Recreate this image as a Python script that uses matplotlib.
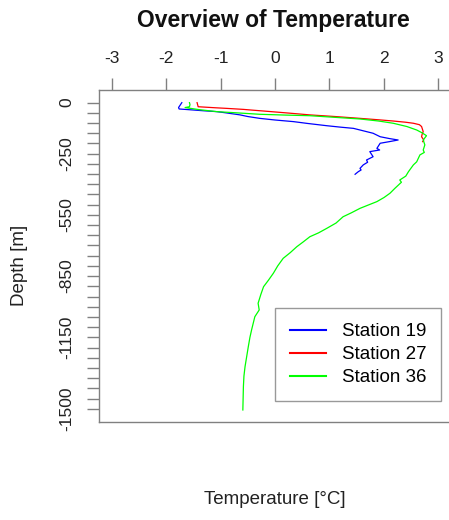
import matplotlib
matplotlib.use("Agg")
import matplotlib.pyplot as plt

plt.rcParams['font.family'] = ['Liberation Sans', 'DejaVu Sans']

# Station 19 profile (temperature, depth)
st19_temp = [-1.71, -1.74, -1.77, -1.76, -1.50, -1.30, -1.07, -0.90, -0.64, -0.50, -0.28,
             0.00, 0.34, 0.60, 0.95, 1.20, 1.44, 1.62, 1.80, 1.93, 2.10, 2.26, 2.10,
             1.93, 1.87, 1.92, 1.74, 1.80, 1.68, 1.70, 1.62, 1.56, 1.58, 1.53, 1.47]
st19_depth = [0, -12, -24, -31, -36, -40, -44, -50, -60, -68, -77,
              -85, -93, -102, -113, -120, -126, -138, -150, -167, -176, -183, -191,
              -199, -224, -232, -240, -265, -281, -292, -305, -322, -330, -338, -351]

# Station 27 profile
st27_temp = [-1.43, -1.42, -1.41, -1.10, -0.89, -0.58, -0.40, -0.21, 0.20, 0.64, 1.10,
             1.56, 1.90, 2.17, 2.40, 2.54, 2.65, 2.69, 2.72, 2.70, 2.69, 2.73, 2.71]
st27_depth = [0, -10, -20, -25, -28, -33, -37, -41, -50, -60, -68,
              -77, -84, -90, -96, -101, -108, -117, -142, -155, -167, -183, -191]

# Station 36 profile
st36_temp = [-1.57, -1.56, -1.57, -1.65, -1.40, -1.07, -0.70, -0.28, 0.20, 0.64, 1.10,
             1.56, 1.90, 2.17, 2.42, 2.60, 2.70, 2.78, 2.72, 2.75, 2.72, 2.74, 2.66,
             2.63, 2.60, 2.54, 2.45, 2.40, 2.29, 2.32, 2.20, 2.11, 2.00, 1.87, 1.70,
             1.56, 1.40, 1.25, 1.12, 0.95, 0.80, 0.64, 0.52, 0.40, 0.28, 0.15, 0.05,
             -0.03, -0.12, -0.21, -0.26, -0.31, -0.29, -0.37, -0.43, -0.46, -0.49,
             -0.52, -0.55, -0.57, -0.58, -0.59]
st36_depth = [0, -10, -20, -24, -34, -44, -50, -57, -61, -64, -72,
              -80, -90, -101, -117, -134, -148, -162, -183, -207, -232, -244, -256,
              -273, -290, -305, -338, -360, -379, -390, -420, -444, -465, -485, -503,
              -518, -540, -559, -590, -616, -638, -657, -682, -706, -735, -763, -800,
              -836, -870, -902, -940, -983, -1016, -1049, -1114, -1150, -1196,
              -1245, -1294, -1340, -1392, -1506]

labels = ["Station 19", "Station 27", "Station 36"]
colors = ["#0000ff", "#ff0000", "#00ff00"]

ytick_major = [0, -250, -550, -850, -1150, -1500]
ytick_minor = list(range(0, -1501, -50))
xticks = [-3, -2, -1, 0, 1, 2, 3]

W, H = 449, 520
fig = plt.figure(figsize=(W / 100, H / 100), dpi=100)
ax = fig.add_axes([99 / W, 1 - 422 / H, (451 - 99) / W, (422 - 90) / H])

for t, d, c, lab in zip([st19_temp, st27_temp, st36_temp],
                        [st19_depth, st27_depth, st36_depth], colors, labels):
    ax.plot(t, d, color=c, lw=0.9, label=lab)

ax.set_xlim(-3.23, 3.23)
ax.set_ylim(-1565, 62)

gray = "#808080"
for s in ax.spines.values():
    s.set_color(gray)
    s.set_linewidth(1.0)

ax.xaxis.tick_top()
ax.set_xticks(xticks)
ax.set_xticklabels([str(v) for v in xticks])
ax.set_yticks(ytick_minor, minor=True)
ax.set_yticks(ytick_major)
ax.set_yticklabels([str(v) for v in ytick_major], rotation=90, va='center')
ax.tick_params(axis='both', which='both', direction='out', length=8.5, width=1.0,
               color=gray, labelsize=12.5, labelcolor="#222222", pad=9)

fig.text(273 / W, 1 - 20 / H, "Overview of Temperature", ha='center', va='center',
         fontsize=16.5, fontweight='bold', color="#111111")
fig.text(275 / W, 1 - 500 / H, "Temperature [°C]", ha='center', va='center',
         fontsize=13.5, color="#222222")
fig.text(20 / W, 1 - 265 / H, "Depth [m]", ha='center', va='center', rotation=90,
         fontsize=13.5, color="#222222")

leg = ax.legend(loc='upper left', bbox_to_anchor=(275 / W, 1 - 308 / H),
                bbox_transform=fig.transFigure, fontsize=13.5, frameon=True,
                fancybox=False, edgecolor=gray, handlelength=1.9,
                handletextpad=0.85, labelspacing=0.32, borderpad=0.8,
                borderaxespad=0)
leg.get_frame().set_linewidth(1.0)
for line in leg.get_lines():
    line.set_linewidth(1.5)

fig.savefig("out.png", dpi=100)
